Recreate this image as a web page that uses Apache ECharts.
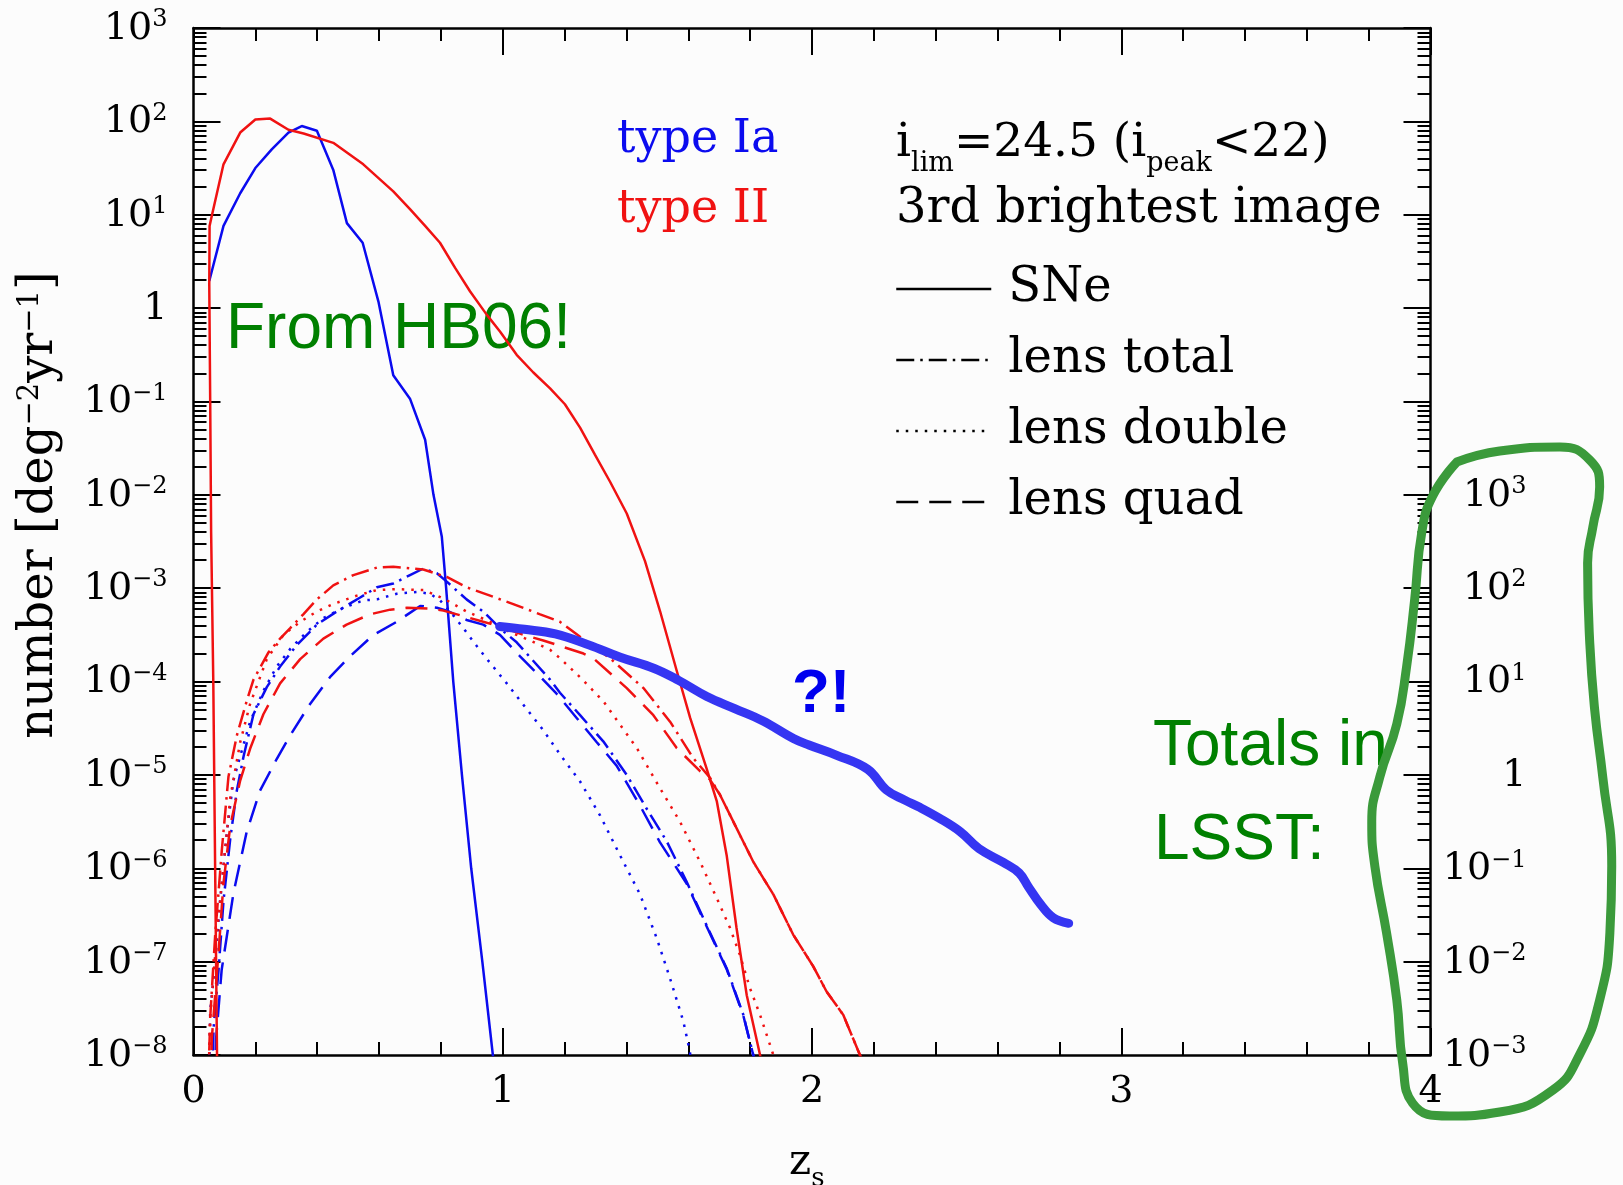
<!DOCTYPE html>
<html>
<head>
<meta charset="utf-8">
<title>Lensed supernovae vs source redshift</title>
<script src="https://cdn.jsdelivr.net/npm/echarts@6/dist/echarts.min.js"></script>
<style>
html, body { margin: 0; padding: 0; background: #fcfcfc; }
#chart { width: 1623px; height: 1185px; }
</style>
</head>
<body>
<div id="chart"></div>
<script>
// curves: z_s and log10(number [deg^-2 yr^-1])
var ia_sne_z  = [0.051,0.097,0.151,0.200,0.253,0.307,0.350,0.399,0.452,0.496,0.547,0.598,0.646,0.700,0.749,0.776,0.803,0.817,0.840,0.868,0.898,0.934,0.968,0.975];
var ia_sne_lg = [0.29,0.88,1.23,1.50,1.70,1.88,1.95,1.90,1.48,0.91,0.70,0.07,-0.72,-0.97,-1.41,-2.00,-2.45,-3.00,-4.00,-5.00,-6.00,-7.00,-8.00,-8.25];

var ia_tot_z  = [0.060,0.065,0.081,0.097,0.119,0.140,0.162,0.194,0.237,0.280,0.334,0.399,0.463,0.539,0.593,0.646,0.700,0.743,0.787,0.819,0.883,0.937,0.991,1.045,1.099,1.153,1.185,1.250,1.325,1.401,1.465,1.530,1.594,1.659,1.724,1.778,1.810,1.820];
var ia_tot_lg = [-8.3,-7.71,-7.09,-6.35,-5.68,-5.17,-4.80,-4.35,-4.06,-3.84,-3.61,-3.39,-3.25,-3.10,-2.99,-2.95,-2.86,-2.79,-2.84,-2.93,-3.12,-3.25,-3.43,-3.58,-3.78,-3.98,-4.12,-4.36,-4.64,-5.00,-5.36,-5.71,-6.14,-6.61,-7.07,-7.57,-8.00,-8.15];

var ia_dbl_z  = [0.050,0.054,0.070,0.086,0.108,0.129,0.151,0.183,0.226,0.269,0.313,0.366,0.420,0.485,0.550,0.593,0.657,0.722,0.765,0.797,0.830,0.873,0.916,0.959,1.013,1.067,1.131,1.185,1.250,1.314,1.379,1.444,1.498,1.541,1.584,1.605,1.612];
var ia_dbl_lg = [-8.3,-7.53,-7.01,-6.35,-5.61,-5.06,-4.80,-4.43,-4.10,-3.84,-3.65,-3.47,-3.32,-3.21,-3.13,-3.12,-3.06,-3.04,-3.06,-3.13,-3.25,-3.43,-3.62,-3.80,-4.02,-4.25,-4.52,-4.78,-5.07,-5.43,-5.86,-6.28,-6.75,-7.18,-7.64,-7.96,-8.15];

var ia_quad_z  = [0.068,0.073,0.091,0.129,0.172,0.215,0.269,0.312,0.377,0.442,0.506,0.582,0.657,0.733,0.787,0.819,0.883,0.937,0.991,1.056,1.110,1.174,1.239,1.304,1.368,1.444,1.508,1.594,1.659,1.724,1.778,1.810,1.820];
var ia_quad_lg = [-8.3,-7.83,-7.09,-6.27,-5.61,-5.17,-4.83,-4.58,-4.24,-3.95,-3.73,-3.50,-3.36,-3.19,-3.21,-3.24,-3.34,-3.39,-3.50,-3.73,-3.91,-4.13,-4.39,-4.65,-4.90,-5.33,-5.72,-6.16,-6.62,-7.08,-7.58,-8.00,-8.15];

var ii_sne_z  = [0.077,0.070,0.064,0.057,0.054,0.051,0.052,0.060,0.097,0.151,0.200,0.248,0.307,0.356,0.452,0.549,0.646,0.700,0.749,0.797,0.846,0.894,0.948,0.991,1.045,1.099,1.153,1.201,1.250,1.298,1.347,1.401,1.460,1.509,1.563,1.606,1.659,1.692,1.724,1.756,1.789,1.832,1.840];
var ii_sne_lg = [-8.3,-6.0,-4.0,-2.4,-1.0,0.25,0.88,1.00,1.54,1.88,2.02,2.03,1.91,1.87,1.77,1.54,1.25,1.06,0.88,0.70,0.43,0.18,-0.07,-0.25,-0.50,-0.69,-0.86,-1.03,-1.28,-1.57,-1.86,-2.20,-2.71,-3.25,-3.89,-4.39,-4.93,-5.28,-5.86,-6.64,-7.36,-8.00,-8.15];

var ii_tot_z  = [0.048,0.054,0.070,0.092,0.113,0.140,0.172,0.194,0.242,0.280,0.312,0.355,0.399,0.452,0.517,0.593,0.646,0.743,0.819,0.883,0.959,1.034,1.121,1.185,1.250,1.347,1.455,1.541,1.616,1.670,1.702,1.756,1.810,1.875,1.939,2.004,2.047,2.101,2.155,2.170];
var ii_tot_lg = [-8.3,-7.60,-6.72,-5.79,-5.02,-4.58,-4.21,-3.98,-3.69,-3.54,-3.43,-3.28,-3.12,-2.97,-2.86,-2.78,-2.77,-2.80,-2.88,-2.99,-3.08,-3.17,-3.28,-3.36,-3.52,-3.75,-4.07,-4.43,-4.82,-5.03,-5.21,-5.57,-5.93,-6.28,-6.71,-7.05,-7.32,-7.57,-8.00,-8.15];

var ii_dbl_z  = [0.048,0.054,0.075,0.097,0.119,0.151,0.183,0.237,0.291,0.345,0.399,0.452,0.528,0.593,0.657,0.743,0.787,0.819,0.883,0.959,1.023,1.088,1.153,1.185,1.255,1.325,1.433,1.508,1.573,1.638,1.692,1.735,1.767,1.799,1.832,1.875,1.885];
var ii_dbl_lg = [-8.3,-7.60,-6.72,-5.98,-5.24,-4.65,-4.24,-3.76,-3.50,-3.36,-3.25,-3.17,-3.08,-3.02,-3.01,-3.02,-3.08,-3.13,-3.25,-3.36,-3.47,-3.56,-3.66,-3.75,-3.97,-4.21,-4.71,-5.14,-5.50,-5.93,-6.32,-6.64,-6.93,-7.28,-7.57,-8.00,-8.15];

var ii_quad_z  = [0.056,0.059,0.081,0.097,0.119,0.151,0.183,0.226,0.280,0.345,0.420,0.495,0.571,0.636,0.690,0.765,0.808,0.873,0.937,0.991,1.067,1.131,1.196,1.261,1.293,1.401,1.487,1.562,1.638,1.670,1.702,1.756,1.810,1.875,1.939,2.004,2.047,2.101,2.155,2.170];
var ii_quad_lg = [-8.3,-7.83,-6.90,-6.16,-5.54,-5.06,-4.72,-4.35,-4.02,-3.76,-3.54,-3.39,-3.28,-3.23,-3.21,-3.22,-3.24,-3.30,-3.36,-3.41,-3.50,-3.56,-3.63,-3.70,-3.75,-4.07,-4.36,-4.71,-4.96,-5.05,-5.21,-5.57,-5.93,-6.28,-6.71,-7.05,-7.32,-7.57,-8.00,-8.15];

// hand drawn "?!" curve
var hand_z  = [0.99,1.07,1.17,1.28,1.38,1.49,1.57,1.66,1.75,1.84,1.94,1.99,2.08,2.18,2.24,2.30,2.35,2.41,2.48,2.54,2.62,2.67,2.70,2.74,2.78,2.83];
var hand_lg = [-3.41,-3.44,-3.49,-3.61,-3.74,-3.86,-3.99,-4.16,-4.29,-4.42,-4.61,-4.68,-4.79,-4.94,-5.16,-5.27,-5.35,-5.46,-5.61,-5.79,-5.94,-6.05,-6.20,-6.39,-6.53,-6.59];

// green loop drawn round the LSST totals (same z / log10 units, runs past z = 4)
var loop_z  = [4.085,4.224,4.418,4.515,4.547,4.525,4.508,4.515,4.531,4.557,4.586,4.580,4.547,4.483,4.396,4.224,4.062,3.942,3.910,3.891,3.858,3.820,3.810,3.836,3.891,3.923,3.949,3.972,4.007,4.085];
var loop_lg = [-1.649,-1.531,-1.488,-1.627,-1.916,-2.345,-2.730,-3.587,-4.305,-5.023,-5.976,-6.694,-7.411,-7.990,-8.375,-8.611,-8.654,-8.515,-8.086,-7.411,-6.694,-5.976,-5.505,-5.023,-4.455,-3.834,-3.116,-2.398,-2.013,-1.649];

// tick labels
var leftExp = [-8,-7,-6,-5,-4,-3,-2,-1,0,1,2,3];
var rightExp = [-3,-2,-1,0,1,2,3];
var minorMult = [2,3,4,5,6,7,8,9];
var legendNames = ['SNe','lens total','lens double','lens quad'];

var SERIF = 'DejaVu Serif';
var SANS = 'Liberation Sans';
var BLUE = '#0b0bef';
var RED = '#f01212';
var DASHDOT = [18, 6, 2.5, 6];
var DOT = [2.5, 7];
var DASH = [22, 11];

// plot frame in px; the loop grid shares the origin and scale but reaches the page edge
var W = 1623, H = 1185;
var G = { left: 193.5, right: 192.5, top: 28, bottom: 130 };
var pxPerZ = (W - G.left - G.right) / 4;
var pxPerDec = (H - G.top - G.bottom) / 11;

function pts(z, lg) {
    return z.map(function (v, i) { return [v, Math.pow(10, lg[i])]; });
}
function dec(e) { return Number('1e' + e); }

var majorY = leftExp.map(dec);
var minorY = [];
leftExp.slice(0, -1).forEach(function (e) {
    minorMult.forEach(function (k) { minorY.push(k * dec(e)); });
});
var rightVals = rightExp.map(dec);

function expLabel(v) {
    var e = Math.round(Math.log10(v));
    if (e === 0) return '{m|1}';
    return '{m|10}{e|' + (e < 0 ? '\u2212' + (-e) : e) + '}';
}
var labelRich = {
    m: { fontFamily: SERIF, fontSize: 38, lineHeight: 40, color: '#000', verticalAlign: 'bottom' },
    e: { fontFamily: SERIF, fontSize: 24, lineHeight: 24, color: '#000', verticalAlign: 'top' }
};

function logAxis(pos, ticks, len, showLine) {
    return {
        type: 'log', logBase: 10, position: pos, min: 1e-8, max: 1e3,
        axisLine: { show: showLine, onZero: false, lineStyle: { color: '#000', width: 2.5 } },
        axisTick: { show: true, inside: true, length: len, lineStyle: { color: '#000', width: 2 }, customValues: ticks },
        axisLabel: { show: false },
        splitLine: { show: false },
        minorTick: { show: false },
        minorSplitLine: { show: false }
    };
}
function xAx(pos, labels) {
    return {
        type: 'value', position: pos, min: 0, max: 4, interval: 1,
        axisLine: { show: true, onZero: false, lineStyle: { color: '#000', width: 2.5 } },
        axisTick: { show: true, inside: true, length: 27, lineStyle: { color: '#000', width: 2 } },
        minorTick: { show: true, splitNumber: 5, length: 13, lineStyle: { color: '#000', width: 2 } },
        axisLabel: { show: labels, margin: 18, fontFamily: SERIF, fontSize: 38, color: '#000' },
        splitLine: { show: false }
    };
}
function curve(name, z, lg, color, dash, width) {
    return {
        name: name, type: 'line', data: pts(z, lg),
        symbol: 'none', showSymbol: false, silent: true, animation: false,
        lineStyle: { color: color, width: width || 2.5, type: dash || 'solid' },
        itemStyle: { color: color }, z: 3
    };
}

var yLeft = logAxis('left', majorY, 27, true);
yLeft.axisLabel = { show: true, margin: 26, formatter: expLabel, rich: labelRich, customValues: majorY };

var yRightLabels = {
    type: 'log', logBase: 10, position: 'right', min: 1e-3, max: 1e8,
    axisLine: { show: false }, axisTick: { show: false },
    axisLabel: { show: true, margin: 96, align: 'right', formatter: expLabel, rich: labelRich, customValues: rightVals },
    splitLine: { show: false }, minorTick: { show: false }
};

// hidden axes for the loop grid
var loopX = { type: 'value', gridIndex: 1, show: false, min: 0, max: (W - G.left) / pxPerZ, splitLine: { show: false } };
var loopY = { type: 'log', logBase: 10, gridIndex: 1, show: false, min: Math.pow(10, 3 - (H - G.top) / pxPerDec), max: 1e3, splitLine: { show: false } };

var series = [
    curve('Ia SNe', ia_sne_z, ia_sne_lg, BLUE),
    curve('Ia lens total', ia_tot_z, ia_tot_lg, BLUE, DASHDOT),
    curve('Ia lens double', ia_dbl_z, ia_dbl_lg, BLUE, DOT),
    curve('Ia lens quad', ia_quad_z, ia_quad_lg, BLUE, DASH),
    curve('II SNe', ii_sne_z, ii_sne_lg, RED),
    curve('II lens total', ii_tot_z, ii_tot_lg, RED, DASHDOT),
    curve('II lens double', ii_dbl_z, ii_dbl_lg, RED, DOT),
    curve('II lens quad', ii_quad_z, ii_quad_lg, RED, DASH)
];
var hand = curve('?!', hand_z, hand_lg, '#3535f2', 'solid', 9);
hand.smooth = 0.4;
hand.lineStyle.cap = 'round';
hand.z = 5;
series.push(hand);

var loop = curve('LSST totals', loop_z, loop_lg, '#3b9a3b', 'solid', 9);
loop.smooth = 0.5;
loop.clip = false;
loop.xAxisIndex = 2;
loop.yAxisIndex = 5;
loop.lineStyle.cap = 'round';
loop.lineStyle.join = 'round';
loop.z = 10;
series.push(loop);

// black samples for the legend only
[['SNe', 'solid'], ['lens total', DASHDOT], ['lens double', DOT], ['lens quad', DASH]].forEach(function (d) {
    series.push({
        name: d[0], type: 'line', data: [], symbol: 'none', silent: true,
        lineStyle: { color: '#000', width: 2.5, type: d[1] }, itemStyle: { color: '#000' }
    });
});

var chart = echarts.init(document.getElementById('chart'), null, { renderer: 'canvas' });
chart.setOption({
    backgroundColor: '#fcfcfc',
    animation: false,
    textStyle: { fontFamily: SERIF },
    grid: [
        { left: G.left, right: G.right, top: G.top, bottom: G.bottom, containLabel: false, outerBoundsMode: 'none' },
        { left: G.left, right: 0, top: G.top, bottom: 0, containLabel: false, outerBoundsMode: 'none' }
    ],
    xAxis: [xAx('bottom', true), xAx('top', false), loopX],
    yAxis: [
        yLeft,
        logAxis('left', minorY, 13, false),
        logAxis('right', majorY, 27, true),
        logAxis('right', minorY, 13, false),
        yRightLabels,
        loopY
    ],
    legend: {
        show: true, orient: 'vertical', left: 890, top: 260,
        itemWidth: 95, itemHeight: 48, itemGap: 23, selectedMode: false,
        data: legendNames,
        textStyle: { fontFamily: SERIF, fontSize: 48, color: '#000', padding: [0, 0, 0, 12] },
        lineStyle: { width: 2.5 },
        itemStyle: { opacity: 0 }
    },
    graphic: [
        { type: 'text', x: 617, y: 140, silent: true,
          style: { text: 'type Ia', fill: BLUE, fontFamily: SERIF, fontSize: 46, verticalAlign: 'middle' } },
        { type: 'text', x: 617, y: 210, silent: true,
          style: { text: 'type II', fill: RED, fontFamily: SERIF, fontSize: 46, verticalAlign: 'middle' } },
        { type: 'text', x: 896, y: 120, silent: true,
          style: {
              text: '{m|i}{s|lim}{m|=24.5 (i}{s|peak}{m|<22)}',
              rich: {
                  m: { fontFamily: SERIF, fontSize: 47, lineHeight: 47, fill: '#000', verticalAlign: 'top' },
                  s: { fontFamily: SERIF, fontSize: 27, lineHeight: 27, fill: '#000', verticalAlign: 'top', padding: [30, 0, 0, 0] }
              }
          } },
        { type: 'text', x: 896, y: 210, silent: true,
          style: { text: '3rd brightest image', fill: '#000', fontFamily: SERIF, fontSize: 48, verticalAlign: 'middle' } },
        { type: 'text', x: 40, y: 505, rotation: Math.PI / 2, silent: true,
          style: {
              text: '{m|number [deg}{p|\u22122}{m|yr}{p|\u22121}{m|]}',
              align: 'center', verticalAlign: 'middle',
              rich: {
                  m: { fontFamily: SERIF, fontSize: 48, lineHeight: 48, fill: '#000', verticalAlign: 'bottom' },
                  p: { fontFamily: SERIF, fontSize: 29, lineHeight: 29, fill: '#000', verticalAlign: 'top' }
              }
          } },
        { type: 'text', x: 789, y: 1142, silent: true,
          style: {
              text: '{z|z}{s|s}',
              rich: {
                  z: { fontFamily: SERIF, fontSize: 42, lineHeight: 42, fill: '#000', verticalAlign: 'top' },
                  s: { fontFamily: SERIF, fontSize: 26, lineHeight: 26, fill: '#000', verticalAlign: 'top', padding: [24, 0, 0, 0] }
              }
          } },
        { type: 'text', x: 226, y: 330, silent: true,
          style: { text: 'From HB06!', fill: '#008000', fontFamily: SANS, fontSize: 64, verticalAlign: 'middle' } },
        { type: 'text', x: 1153, y: 747, silent: true,
          style: { text: 'Totals in', fill: '#008000', fontFamily: SANS, fontSize: 64, verticalAlign: 'middle' } },
        { type: 'text', x: 1154, y: 841, silent: true,
          style: { text: 'LSST:', fill: '#008000', fontFamily: SANS, fontSize: 64, verticalAlign: 'middle' } },
        { type: 'text', x: 792, y: 695, silent: true,
          style: { text: '?!', fill: '#0000ee', fontFamily: SANS, fontWeight: 'bold', fontSize: 62, verticalAlign: 'middle' } }
    ],
    series: series
});
</script>
</body>
</html>
